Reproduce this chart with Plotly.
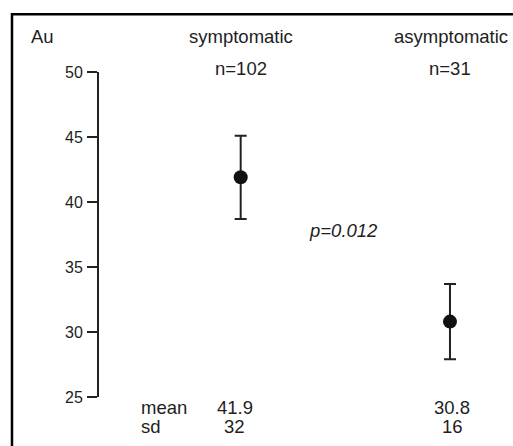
import plotly.graph_objects as go

groups = ["symptomatic", "asymptomatic"]
n_counts = [102, 31]
means = [41.9, 30.8]
sds = [32, 16]
err = [3.2, 2.9]
p_text = "p=0.012"
y_ticks = [25, 30, 35, 40, 45, 50]

xpos = list(range(len(groups)))
FONT = "Liberation Sans, Arial, sans-serif"
TXT = "#1e1e1e"
FS = 18.5

fig = go.Figure()
fig.add_trace(go.Scatter(
    x=xpos, y=means, mode="markers",
    marker=dict(size=14, color="#111111"),
    error_y=dict(type="data", array=err, visible=True, color="#222222",
                 thickness=2, width=6),
    showlegend=False, cliponaxis=False, hoverinfo="skip",
))

ann = []
ann.append(dict(xref="paper", x=-0.1746, y=1.109, text="Au", xanchor="left"))
for i, g in enumerate(groups):
    ann.append(dict(xref="x", x=xpos[i] + (0 if i == 0 else 0.007), y=1.109, text=g, xanchor="center"))
    ann.append(dict(xref="x", x=xpos[i], y=1.01, text=f"n={n_counts[i]}", xanchor="center"))
    dx = -0.028 if i == 0 else 0.01
    ann.append(dict(xref="x", x=xpos[i] + dx, y=-0.0314, text=f"{means[i]}", xanchor="center"))
    ann.append(dict(xref="x", x=xpos[i] + dx, y=-0.0898, text=f"{sds[i]}", xanchor="center"))
ann.append(dict(xref="x", x=-0.484, y=-0.0314, text="mean", xanchor="left"))
ann.append(dict(xref="x", x=-0.484, y=-0.0898, text="sd", xanchor="left"))
ann.append(dict(xref="x", x=0.49, y=0.5117, text="<i>" + p_text + "</i>", xanchor="center"))
for a in ann:
    a.update(yref="paper", showarrow=False, yanchor="middle",
             font=dict(family=FONT, size=FS, color=TXT))

fig.update_layout(
    width=513, height=446,
    margin=dict(l=99, r=13, t=72, b=49),
    paper_bgcolor="white", plot_bgcolor="white",
    font=dict(family=FONT, color=TXT),
    annotations=ann,
    xaxis=dict(range=[-0.677, 1.239], visible=False, fixedrange=True),
    yaxis=dict(range=[25, 50], tickvals=y_ticks, ticks="outside", ticklen=10,
               tickwidth=2, tickcolor="#222222", showline=True, linewidth=2,
               linecolor="#222222", showgrid=False, zeroline=False, fixedrange=True,
               tickfont=dict(family=FONT, size=16, color=TXT), ticklabelstandoff=1),
    shapes=[dict(type="rect", xref="paper", yref="paper",
                 x0=-0.217, x1=1.06, y0=-0.2, y1=1.178,
                 line=dict(color="black", width=2.5), layer="above")],
)

fig.write_html(
    "out.html",
    config={"displayModeBar": False},
    post_script="document.body.style.margin='0';document.body.style.overflow='hidden';",
)
